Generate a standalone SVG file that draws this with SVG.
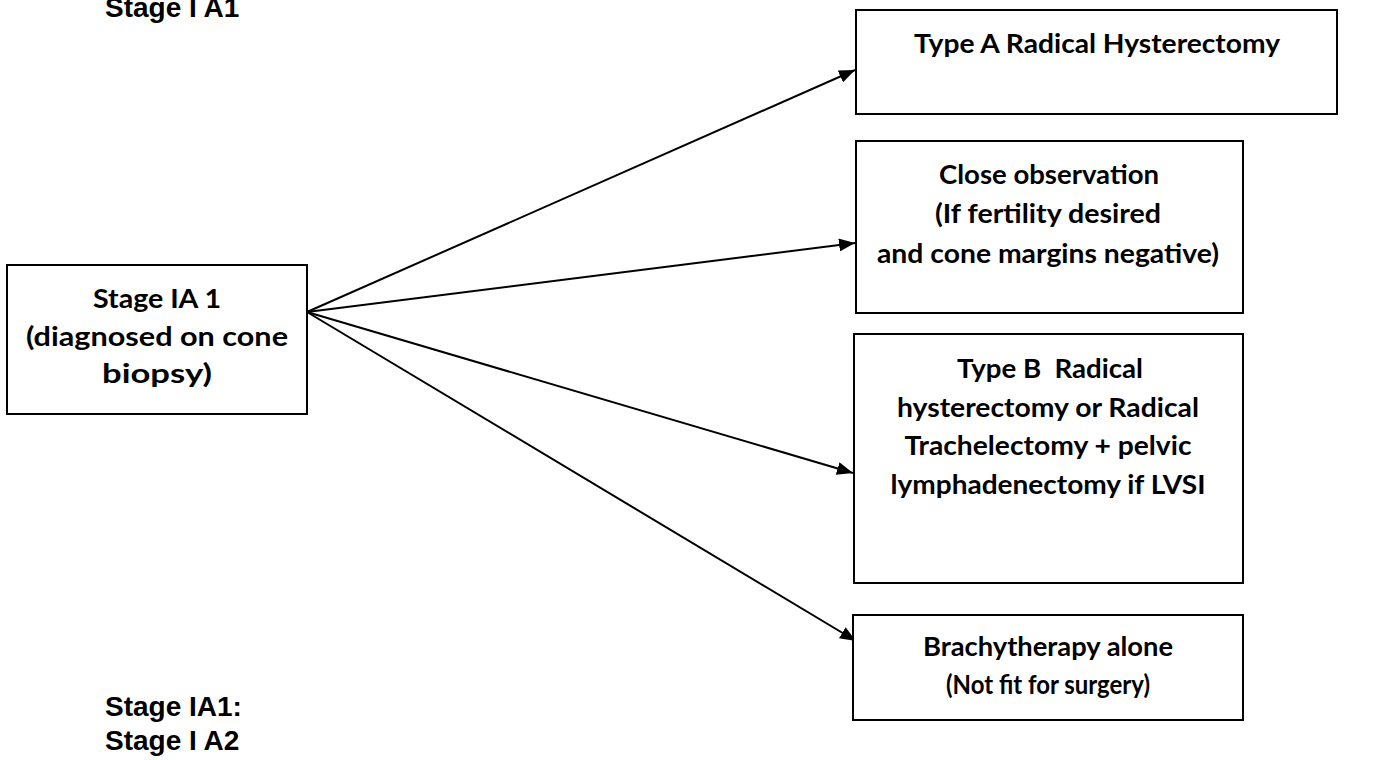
<svg xmlns="http://www.w3.org/2000/svg" width="1378" height="760" viewBox="0 0 1378 760">
<defs>
<style>
.box{fill:#fff;stroke:#000;stroke-width:2}
.t{font-family:Lato,"Liberation Sans",sans-serif;font-weight:bold;font-size:26px;fill:#000;text-anchor:middle}
.lbl{font-family:"Liberation Sans",Arial,sans-serif;font-weight:bold;fill:#000}
.conn{stroke:#000;stroke-width:2;fill:none;marker-end:url(#ah)}
</style>
<marker id="ah" viewBox="0 0 10 10" refX="10" refY="5" markerWidth="8" markerHeight="6.5" markerUnits="strokeWidth" orient="auto" preserveAspectRatio="none">
<path d="M0,0 L10,5 L0,10 z" fill="#000"/>
</marker>
</defs>
<rect width="1378" height="760" fill="#fff"/>
<text class="lbl" x="105" y="17" font-size="28">Stage I A1</text>
<text class="lbl" x="105" y="716" font-size="28">Stage IA1:</text>
<text class="lbl" x="105" y="750" font-size="28">Stage I A2</text>
<g id="connectors">
<line class="conn" x1="307" y1="312" x2="855" y2="70"/>
<line class="conn" x1="307" y1="312" x2="855" y2="243"/>
<line class="conn" x1="307" y1="312" x2="853" y2="473"/>
<line class="conn" x1="307" y1="312" x2="856" y2="641"/>
</g>
<g id="stage-ia1">
<rect class="box" x="7" y="265" width="300" height="149"/>
<text class="t" x="157" y="308" textLength="128" lengthAdjust="spacingAndGlyphs">Stage IA 1</text>
<text class="t" x="157" y="346" textLength="262" lengthAdjust="spacingAndGlyphs">(diagnosed on cone</text>
<text class="t" x="157" y="383" textLength="110" lengthAdjust="spacingAndGlyphs">biopsy)</text>
</g>
<g id="type-a">
<rect class="box" x="856" y="10" width="481" height="104"/>
<text class="t" x="1097" y="53" textLength="366" lengthAdjust="spacingAndGlyphs">Type A Radical Hysterectomy</text>
</g>
<g id="close-obs">
<rect class="box" x="856" y="141" width="387" height="172"/>
<text class="t" x="1049" y="184" textLength="220" lengthAdjust="spacingAndGlyphs">Close observation</text>
<text class="t" x="1048" y="223" textLength="226" lengthAdjust="spacingAndGlyphs">(If fertility desired</text>
<text class="t" x="1048" y="263" textLength="342" lengthAdjust="spacingAndGlyphs">and cone margins negative)</text>
</g>
<g id="type-b">
<rect class="box" x="854" y="334" width="389" height="249"/>
<text class="t" x="1050" y="378" textLength="186" lengthAdjust="spacingAndGlyphs" xml:space="preserve">Type B  Radical</text>
<text class="t" x="1048" y="417" textLength="302" lengthAdjust="spacingAndGlyphs">hysterectomy or Radical</text>
<text class="t" x="1048" y="455" textLength="287" lengthAdjust="spacingAndGlyphs">Trachelectomy + pelvic</text>
<text class="t" x="1048" y="494" textLength="315" lengthAdjust="spacingAndGlyphs">lymphadenectomy if LVSI</text>
</g>
<g id="brachy">
<rect class="box" x="853" y="615" width="390" height="105"/>
<text class="t" x="1048" y="656" textLength="250" lengthAdjust="spacingAndGlyphs">Brachytherapy alone</text>
<text class="t" x="1048" y="694" textLength="204" lengthAdjust="spacingAndGlyphs">(Not fit for surgery)</text>
</g>
</svg>
